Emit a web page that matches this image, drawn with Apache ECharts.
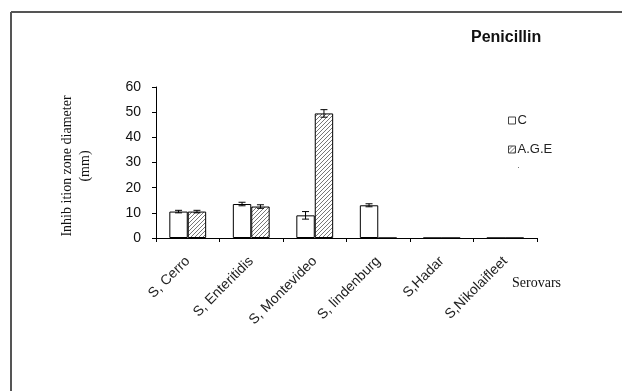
<!DOCTYPE html>
<html>
<head>
<meta charset="utf-8">
<script src="https://cdn.jsdelivr.net/npm/echarts@6/dist/echarts.min.js"></script>
<style>
  html, body { margin: 0; padding: 0; background: #fff; }
  #chart { width: 622px; height: 391px; }
</style>
</head>
<body>
<div id="chart"></div>
<script>
// Inhibition zone diameters (mm) per serovar, penicillin
var categories = ['S, Cerro', 'S, Enteritidis', 'S, Montevideo', 'S, lindenburg', 'S,Hadar', 'S,Nikolaifleet'];
var cValues   = [10.5, 13.5, 9, 13, 0, 0];
var ageValues = [10.5, 12.5, 49.5, 0, 0, 0];
var cErr      = [0.5, 0.7, 1.5, 0.6, 0, 0];
var ageErr    = [0.5, 0.7, 1.5, 0, 0, 0];
var yTicks    = [0, 10, 20, 30, 40, 50, 60];

// diagonal hatch fill for the A.G.E bars
function hatch() {
  var c = document.createElement('canvas');
  c.width = 4; c.height = 4;
  var ctx = c.getContext('2d');
  ctx.fillStyle = '#fff';
  ctx.fillRect(0, 0, 4, 4);
  ctx.strokeStyle = '#777';
  ctx.lineWidth = 1;
  ctx.beginPath();
  ctx.moveTo(0, 4); ctx.lineTo(4, 0);
  ctx.moveTo(-1, 1); ctx.lineTo(1, -1);
  ctx.moveTo(3, 5); ctx.lineTo(5, 3);
  ctx.stroke();
  return c;
}
var hatchFill = { image: hatch(), repeat: 'repeat' };

var GAP = 0.42;
var SANS = '"Liberation Sans", Arial';
var SERIF = '"Liberation Serif", "Times New Roman"';

function errorSeries(vals, errs, side) {
  return {
    type: 'custom',
    z: 5,
    silent: true,
    data: vals.map(function (v, i) { return [i, v, errs[i]]; }),
    renderItem: function (params, api) {
      var i = api.value(0), v = api.value(1), e = api.value(2);
      if (!v) return null;
      var band = api.size([1, 0])[0];
      var bw = band * (1 - GAP) / 2;
      var mid = api.coord([i, v]);
      var x = mid[0] + side * bw / 2;
      var top = api.coord([i, v + e])[1];
      var bot = api.coord([i, v - e])[1];
      var cap = 3.5;
      var st = { stroke: '#000', lineWidth: 1 };
      return {
        type: 'group',
        children: [
          { type: 'line', shape: { x1: x, y1: top, x2: x, y2: bot }, style: st },
          { type: 'line', shape: { x1: x - cap, y1: top, x2: x + cap, y2: top }, style: st },
          { type: 'line', shape: { x1: x - cap, y1: bot, x2: x + cap, y2: bot }, style: st }
        ]
      };
    }
  };
}

var chart = echarts.init(document.getElementById('chart'));
chart.setOption({
  animation: false,
  backgroundColor: '#fff',
  grid: { left: 156, right: 85, top: 87, bottom: 153 },
  legend: {
    orient: 'vertical',
    left: 503,
    top: 109,
    itemWidth: 7,
    itemHeight: 7,
    itemGap: 16,
    textStyle: { fontFamily: SANS, fontSize: 13, color: '#222', padding: [0, 0, 0, -3] },
    data: [
      { name: 'C', icon: 'rect', itemStyle: { color: '#fff', borderColor: '#444', borderWidth: 1 } },
      { name: 'A.G.E', icon: 'rect', itemStyle: { color: hatchFill, borderColor: '#444', borderWidth: 1 } }
    ]
  },
  xAxis: {
    type: 'category',
    data: categories,
    axisLine: { lineStyle: { color: '#000', width: 1 } },
    axisTick: { show: true, length: 4, inside: false, lineStyle: { color: '#000' } },
    axisLabel: {
      rotate: 45,
      margin: 21,
      interval: 0,
      fontFamily: SANS,
      fontSize: 14,
      color: '#222'
    }
  },
  yAxis: {
    type: 'value',
    min: yTicks[0],
    max: yTicks[yTicks.length - 1],
    interval: 10,
    axisLine: { show: true, lineStyle: { color: '#000', width: 1 } },
    axisTick: { show: true, length: 4, lineStyle: { color: '#000' } },
    splitLine: { show: false },
    axisLabel: {
      margin: 15,
      fontFamily: SANS,
      fontSize: 14,
      color: '#111'
    }
  },
  series: [
    {
      name: 'C',
      type: 'bar',
      data: cValues,
      barGap: '0%',
      barCategoryGap: (GAP * 100) + '%',
      itemStyle: { color: '#fff', borderColor: '#000', borderWidth: 1 }
    },
    {
      name: 'A.G.E',
      type: 'bar',
      data: ageValues,
      barGap: '0%',
      barCategoryGap: (GAP * 100) + '%',
      itemStyle: { color: hatchFill, borderColor: '#000', borderWidth: 1 }
    },
    errorSeries(cValues, cErr, -1),
    errorSeries(ageValues, ageErr, 1)
  ],
  graphic: [
    { type: 'line', shape: { x1: 11, y1: 12, x2: 622, y2: 12 }, style: { stroke: '#555', lineWidth: 2 } },
    { type: 'line', shape: { x1: 11, y1: 12, x2: 11, y2: 391 }, style: { stroke: '#555', lineWidth: 2 } },
    {
      type: 'text', left: 471, top: 30,
      style: { text: 'Penicillin', font: 'bold 16px ' + SANS, fill: '#111' }
    },
    {
      type: 'text', x: 67, y: 166, rotation: Math.PI / 2,
      style: {
        text: 'Inhib ition zone diameter', font: '14px ' + SERIF,
        fill: '#111', align: 'center', verticalAlign: 'middle'
      }
    },
    {
      type: 'text', x: 85, y: 166, rotation: Math.PI / 2,
      style: {
        text: '(mm)', font: '14px ' + SERIF,
        fill: '#111', align: 'center', verticalAlign: 'middle'
      }
    },
    {
      type: 'text', left: 512, top: 276,
      style: { text: 'Serovars', font: '14px ' + SERIF, fill: '#111' }
    },
    { type: 'rect', shape: { x: 518, y: 167, width: 1, height: 1 }, style: { fill: '#777' } }
  ]
});
</script>
</body>
</html>
